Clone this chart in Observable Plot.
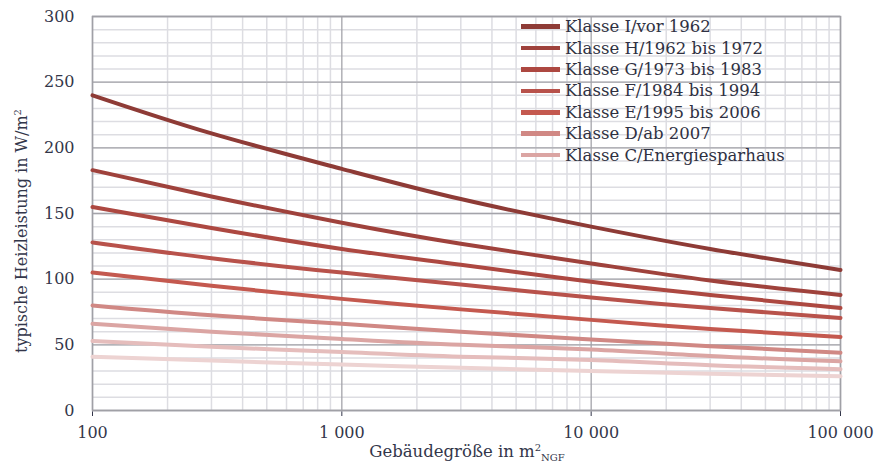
<!DOCTYPE html>
<html>
<head>
<meta charset="utf-8">
<script src="https://cdn.jsdelivr.net/npm/d3@7"></script>
<script src="https://cdn.jsdelivr.net/npm/@observablehq/plot@0.6"></script>
<style>
  html, body { margin: 0; padding: 0; background: #fff; }
  #wrap { position: relative; width: 879px; height: 468px; font-family: "DejaVu Serif", serif; color: #33364a; }
  #ytitle { position: absolute; left: 21px; top: 231px; transform: translate(-50%, -50%) rotate(-90deg); white-space: nowrap; font-size: 16px; }
  #xtitle { position: absolute; left: 467px; top: 452px; transform: translate(-50%, -50%); white-space: nowrap; font-size: 16.5px; }
  #xtitle sub { font-size: 10px; vertical-align: -4px; }
  sup { font-size: 10px; vertical-align: 6px; }
  #legend { position: absolute; left: 521px; top: 16px; font-size: 16.5px; color: #2f3142; }
  .row { display: flex; align-items: center; height: 21.4px; }
  .sw { width: 39px; height: 4.5px; margin-right: 5px; }
</style>
</head>
<body>
<div id="wrap">
  <div id="chart"></div>
  <div id="ytitle">typische Heizleistung in W/m<sup>2</sup></div>
  <div id="xtitle">Gebäudegröße in m<sup>2</sup><sub>NGF</sub></div>
  <div id="legend"></div>
</div>
<script>
// Building size (m² NGF)
const sizes = [100, 300, 1000, 3000, 10000, 30000, 100000];
// Typical heating load (W/m²) per class
const classI = [240, 211, 184, 161, 140, 123, 107];
const classH = [183, 163, 143, 127, 112, 99, 88];
const classG = [155, 139, 123, 111, 98, 88, 78];
const classF = [128, 116, 105, 96, 86, 78, 70.5];
const classE = [105, 95, 85, 77, 69, 62, 56];
const classD = [80, 72.5, 66, 60, 54, 49, 44];
const classC = [66, 60, 54.5, 50, 46.5, 41.5, 37.5];
const classB = [53, 48.5, 44.5, 41, 38.5, 34.5, 31.5];
const classA = [41, 38, 35, 32.5, 30, 28, 26];

const classNames = ["Klasse I/vor 1962", "Klasse H/1962 bis 1972", "Klasse G/1973 bis 1983",
  "Klasse F/1984 bis 1994", "Klasse E/1995 bis 2006", "Klasse D/ab 2007",
  "Klasse C/Energiesparhaus", "Klasse B", "Klasse A"];
const legendNames = classNames.slice(0, 7);
const colors = ["#8e3b36", "#9f423c", "#ad4841", "#b8524b", "#c4594f", "#d08884", "#dba5a3", "#e5bdbc", "#edd3d2"];

const yMajor = [0, 50, 100, 150, 200, 250, 300];
const yMinor = d3.range(0, 301, 10);
const xMajor = [100, 1000, 10000, 100000];
const xMinor = [];
for (const d of [100, 1000, 10000]) for (let k = 2; k <= 9; k++) xMinor.push(d * k);

const series = [classI, classH, classG, classF, classE, classD, classC, classB, classA];
const data = [];
series.forEach((vals, i) => vals.forEach((v, j) => data.push({cls: classNames[i], size: sizes[j], value: v})));

const fmt = d3.formatLocale({decimal: ",", thousands: " ", grouping: [3], currency: ["", ""]}).format(",d");

const chart = Plot.plot({
  width: 879,
  height: 468,
  marginLeft: 92,
  marginRight: 39,
  marginTop: 16,
  marginBottom: 58,
  style: {fontFamily: "DejaVu Serif, serif", fontSize: "16px", color: "#33364a", background: "white"},
  x: {type: "log", domain: [100, 100000], ticks: xMajor, tickFormat: fmt, tickSize: 6, tickPadding: 10, label: null},
  y: {domain: [0, 300], ticks: yMajor, tickSize: 0, tickPadding: 18, label: null},
  color: {domain: classNames, range: colors},
  marks: [
    Plot.ruleY(yMinor, {stroke: "#dddde2", strokeWidth: 1.5}),
    Plot.ruleX(xMinor, {stroke: "#dddde2", strokeWidth: 1.5}),
    Plot.ruleY(yMajor, {stroke: "#a4a4aa", strokeWidth: 1.3}),
    Plot.ruleX(xMajor, {stroke: "#a4a4aa", strokeWidth: 1.3}),
    Plot.frame({stroke: "#a0a0a6", strokeWidth: 1.5}),
    Plot.line(data, {x: "size", y: "value", z: "cls", stroke: "cls", strokeWidth: 4, curve: "natural"})
  ]
});
document.getElementById("chart").appendChild(chart);

const legend = document.getElementById("legend");
legendNames.forEach((name, i) => {
  const row = document.createElement("div");
  row.className = "row";
  const sw = document.createElement("div");
  sw.className = "sw";
  sw.style.background = colors[i];
  const t = document.createElement("span");
  t.textContent = name;
  row.appendChild(sw);
  row.appendChild(t);
  legend.appendChild(row);
});
</script>
</body>
</html>
